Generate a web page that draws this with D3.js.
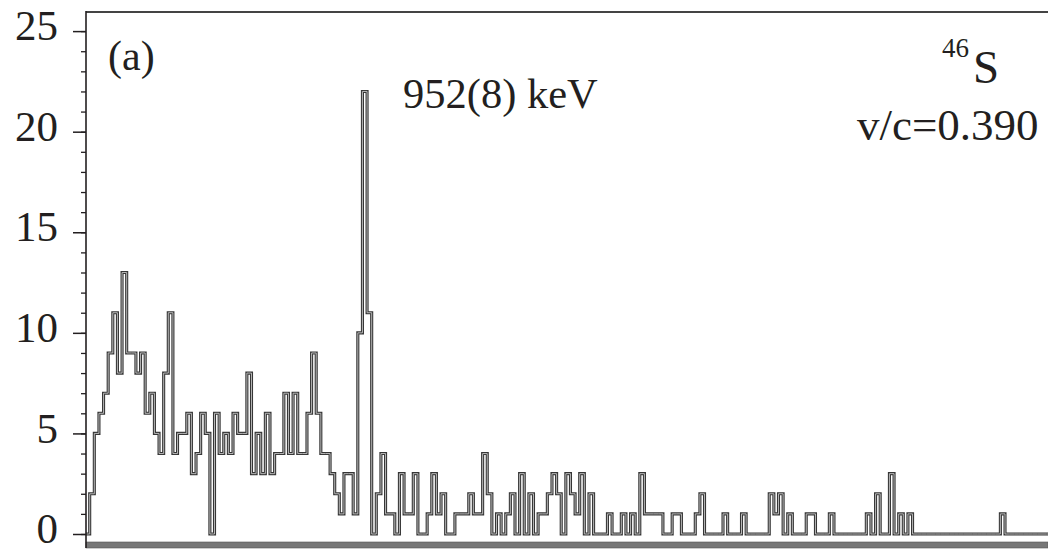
<!DOCTYPE html>
<html>
<head>
<meta charset="utf-8">
<script src="https://cdn.jsdelivr.net/npm/d3@7"></script>
<style>
  body { margin: 0; background: #fff; }
  svg { display: block; }
</style>
</head>
<body>
<div id="spectrum"></div>
<script>
// counts per bin (bin 0 sits just right of the axis)
const counts = [
  2, 5, 6, 7, 9, 11, 8, 13, 9, 9,
  8, 9, 6, 7, 5, 4, 8, 11, 4, 5,
  5, 6, 3, 4, 6, 5, 0, 6, 4, 5,
  4, 6, 5, 5, 8, 3, 5, 3, 6, 3,
  4, 4, 7, 4, 7, 4, 4, 6, 9, 6,
  4, 4, 3, 2, 1, 3, 3, 1, 10, 22,
  11, 0, 2, 4, 1, 1, 0, 3, 1, 1,
  3, 0, 0, 1, 3, 1, 2, 0, 0, 1,
  1, 1, 2, 1, 1, 4, 2, 0, 1, 0,
  1, 2, 0, 3, 0, 2, 0, 1, 1, 2,
  3, 2, 0, 3, 2, 1, 3, 0, 2, 0,
  0, 0, 1, 0, 0, 1, 0, 1, 0, 3,
  1, 1, 1, 1, 0, 0, 1, 1, 0, 0,
  0, 1, 2, 0, 0, 0, 0, 1, 0, 0,
  0, 1, 0, 0, 0, 0, 0, 2, 1, 2,
  0, 1, 0, 0, 0, 1, 1, 0, 0, 0,
  1, 0, 0, 0, 0, 0, 0, 0, 1, 0,
  2, 0, 0, 3, 0, 1, 0, 1, 0, 0,
  0, 0, 0, 0, 0, 0, 0, 0, 0, 0,
  0, 0, 0, 0, 0, 0, 0, 1, 0, 0,
  0, 0, 0, 0, 0, 0, 0, 0
];

const yMajorTicks = [0, 5, 10, 15, 20, 25];
const yMinorTicks = d3.range(0, 26);

const panelLabel = "(a)";
const peakLabel = "952(8) keV";
const nucleusMass = "46";
const nucleusSymbol = "S";
const velocityLabel = "v/c=0.390";

const width = 1048, height = 552;
const margin = {top: 12, right: 0, bottom: 18, left: 86};
const font = "'Liberation Serif', 'Times New Roman', serif";
const ink = "#231f20";

const svg = d3.select("#spectrum")
  .append("svg")
    .attr("width", width)
    .attr("height", height)
    .style("background-color", "white");

// bins start a little right of the axis line, the frame runs off the right edge
const xScale = d3.scaleLinear()
  .domain([-0.8, 207.3])
  .range([margin.left, width]);

const yScale = d3.scaleLinear()
  .domain([0, 25.95])
  .range([534, margin.top]);

// step outline: horizontal over each bin, then vertical to the next
const pts = [[-0.8, 0]];
counts.forEach((c, i) => pts.push([i, c]));
pts.push([counts.length, counts[counts.length - 1]]);

const line = d3.line()
  .x(d => xScale(d[0]))
  .y(d => yScale(d[1]))
  .curve(d3.curveStepAfter);

svg.append("path")
  .datum(pts)
  .attr("fill", "none")
  .attr("stroke", "#363636")
  .attr("stroke-width", 3.1)
  .attr("d", line);

svg.append("path")
  .datum(pts)
  .attr("fill", "none")
  .attr("stroke", "#c4c4c4")
  .attr("stroke-width", 0.9)
  .attr("d", line);

// frame: top edge and the thick grey bar along the bottom
svg.append("line")
  .attr("x1", margin.left).attr("x2", width)
  .attr("y1", margin.top).attr("y2", margin.top)
  .attr("stroke", "#444")
  .attr("stroke-width", 2);

svg.append("rect")
  .attr("x", margin.left)
  .attr("y", 542)
  .attr("width", width - margin.left)
  .attr("height", 6)
  .attr("fill", "#777")
  .attr("stroke", "#555")
  .attr("stroke-width", 0.6);

// y axis, minor ticks every count and labelled ticks every five
svg.append("g")
  .attr("transform", `translate(${margin.left},0)`)
  .call(d3.axisLeft(yScale).tickValues(yMinorTicks).tickSize(5).tickFormat(""))
  .call(g => g.select(".domain").remove())
  .call(g => g.selectAll("line").attr("stroke", ink).attr("stroke-width", 1.3));

const yAxis = svg.append("g")
  .attr("transform", `translate(${margin.left},0)`)
  .call(d3.axisLeft(yScale).tickValues(yMajorTicks).tickSize(13).tickPadding(15))
  .call(g => g.select(".domain").remove());

yAxis.selectAll("line").attr("stroke", ink).attr("stroke-width", 1.5);
yAxis.selectAll("text")
  .attr("dy", "0.2em")
  .style("font-family", font)
  .style("font-size", "43px")
  .attr("fill", ink);

svg.append("line")
  .attr("x1", margin.left).attr("x2", margin.left)
  .attr("y1", margin.top - 1).attr("y2", 548)
  .attr("stroke", ink)
  .attr("stroke-width", 1.6);

// annotations
const txt = (x, y, s, size) => svg.append("text")
  .attr("x", x).attr("y", y)
  .style("font-family", font)
  .style("font-size", size + "px")
  .attr("fill", ink)
  .text(s);

txt(108, 70, panelLabel, 42);
txt(403, 108, peakLabel, 42.5);
txt(942, 57, nucleusMass, 27);
txt(973, 83, nucleusSymbol, 47);
txt(857, 140, velocityLabel, 45);
</script>
</body>
</html>
